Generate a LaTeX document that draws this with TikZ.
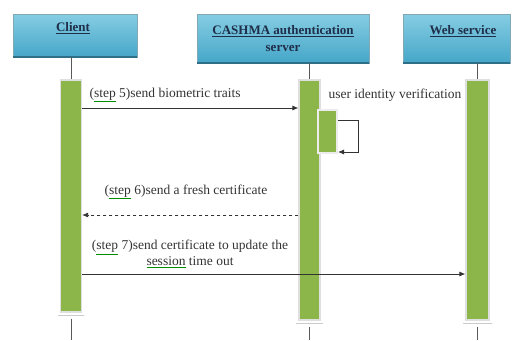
\documentclass[tikz,border=0pt]{standalone}
\usepackage{fontspec}
\setmainfont{Liberation Serif}
\usepackage{xcolor}
\usepackage{tikz}
\usetikzlibrary{arrows.meta,positioning,calc}

\definecolor{headtop}{HTML}{86CDE3}
\definecolor{headbot}{HTML}{45A6C8}
\definecolor{headline}{HTML}{2E6E86}
\definecolor{headtext}{HTML}{1F2F4A}
\definecolor{bargreen}{HTML}{8CB64A}
\definecolor{msgtext}{HTML}{333333}

\tikzset{
  header/.style={rectangle, draw=headline!60, top color=headtop, bottom color=headbot, inner sep=0pt},
  headlabel/.style={font=\fontsize{13}{15}\selectfont\bfseries, text=headtext, align=center},
  actbar/.style={rectangle, fill=bargreen, draw=gray!25, line width=1.2pt, inner sep=0pt},
  lifeline/.style={draw=gray!70!black, thick},
  msg/.style={-{Latex[length=6pt,width=5pt]}, thick, draw=black!80},
  msglabel/.style={font=\fontsize{13.5}{16.5}\selectfont, text=msgtext},
}
\newcommand{\spell}[1]{{\color{green!55!black}\underline{\color{msgtext}#1}}}

\begin{document}
\begin{tikzpicture}[x=1pt,y=-1pt]
  \useasboundingbox (0,0) rectangle (516,340);

  % lifeline heads
  \node[header, minimum width=124pt, minimum height=43pt] (client) at (75,35.5) {};
  \node[header, minimum width=172pt, minimum height=49pt] (cashma) at (283,38.5) {};
  \node[header, minimum width=107pt, minimum height=49pt] (web) at (456.5,38.5) {};
  \draw[headline, line width=1.5pt] (client.south west) -- (client.south east);
  \draw[headline, line width=1.5pt] (cashma.south west) -- (cashma.south east);
  \draw[headline, line width=1.5pt] (web.south west) -- (web.south east);

  \node[headlabel] (clienttxt) at (73,28) {\underline{Client}};
  \node[headlabel] (cashmatxt) at (283,31) {\underline{CASHMA authentication}};
  \node[headlabel] (cashmatxt2) at (283,48) {server};
  \node[headlabel] (webtxt) at (463,31) {\underline{Web service}};

  % activation bars
  \node[actbar, minimum width=21pt, minimum height=232pt] (cbar) at (71,196) {};
  \node[actbar, minimum width=21pt, minimum height=240pt] (sbar) at (309.5,200) {};
  \node[actbar, minimum width=23pt, minimum height=240pt] (wbar) at (477.5,200) {};
  \node[actbar, draw=white!85!gray, line width=2pt, minimum width=19pt, minimum height=43pt] (vbar) at (327.5,131.5) {};

  % lifelines
  \draw[lifeline] (client.south -| cbar) -- (cbar.north);
  \draw[lifeline] (cashma.south -| sbar) -- (sbar.north);
  \draw[lifeline] (web.south -| wbar) -- (wbar.north);
  \coordinate (cend) at (cbar.center |- 0,340);
  \coordinate (send) at (sbar.center |- 0,340);
  \coordinate (wend) at (wbar.center |- 0,340);
  \draw[lifeline] ($(cbar.south)+(0,6)$) -- (cend);
  \draw[lifeline] ($(sbar.south)+(0,6)$) -- (send);
  \draw[lifeline] ($(wbar.south)+(0,6)$) -- (wend);
  \draw[gray!40, thick] ($(cbar.south west)+(-2,3)$) -- ($(cbar.south east)+(2,3)$);
  \draw[gray!40, thick] ($(sbar.south west)+(-2,3)$) -- ($(sbar.south east)+(2,3)$);
  \draw[gray!40, thick] ($(wbar.south west)+(-2,3)$) -- ($(wbar.south east)+(2,3)$);

  % messages
  \draw[msg] (cbar.east |- 0,108) -- (sbar.west |- 0,108);
  \node[msglabel, anchor=west] (m5) at (86,95) {(\spell{step} 5)send biometric traits};

  \coordinate (loopa) at (358,120);
  \coordinate (loopb) at (358,152);
  \draw[msg] (vbar.east |- loopa) -- (loopa) -- (loopb) -- (vbar.east |- loopb);
  \node[msglabel, anchor=west] (verify) at (325,95) {user identity verification};

  \draw[msg, dashed] (sbar.west |- 0,215) -- (cbar.east |- 0,215);
  \node[msglabel] (m6) at (186,192) {(\spell{step} 6)send a fresh certificate};

  \draw[msg] (cbar.east |- 0,274) -- (wbar.west |- 0,274);
  \node[msglabel, align=center] (m7) at (190,254) {(\spell{step} 7)send certificate to update the\\\spell{session} time out};
\end{tikzpicture}
\end{document}
